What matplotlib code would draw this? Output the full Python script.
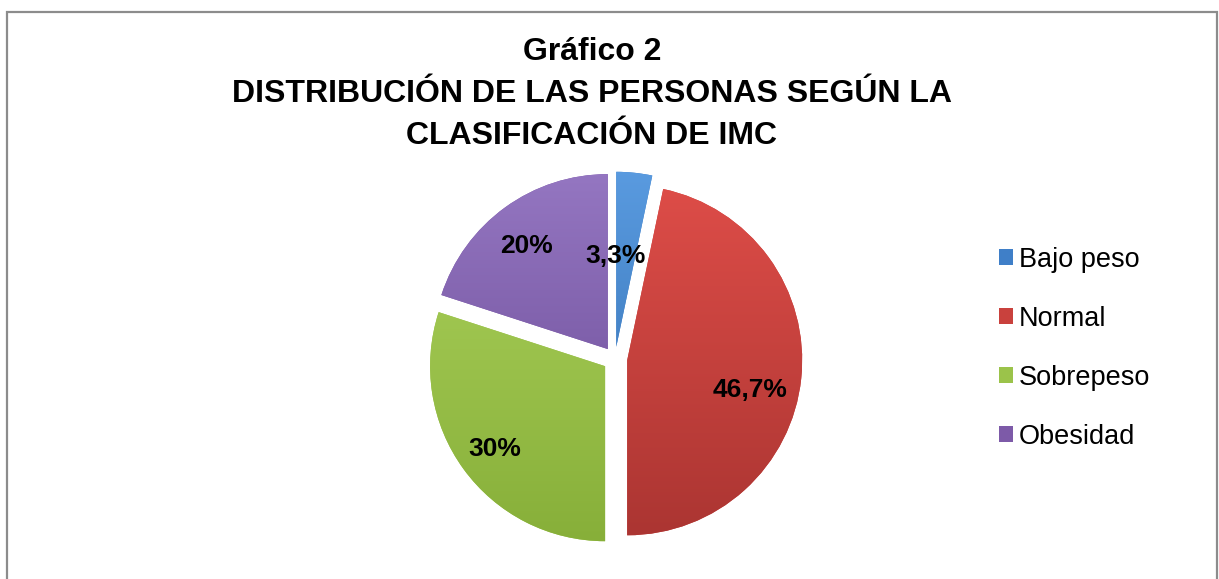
import numpy as np
import matplotlib
matplotlib.use("Agg")
import matplotlib.pyplot as plt
from matplotlib.patches import Rectangle
from matplotlib.colors import LinearSegmentedColormap

plt.rcParams['font.family'] = ['Liberation Sans', 'DejaVu Sans']

categories = ["Bajo peso", "Normal", "Sobrepeso", "Obesidad"]
values = [3.3, 46.7, 30, 20]
value_labels = ["3,3%", "46,7%", "30%", "20%"]
title = "Gráfico 2\nDISTRIBUCIÓN DE LAS PERSONAS SEGÚN LA\nCLASIFICACIÓN DE IMC"

colors = ["#3F7FC8", "#C9413D", "#9BC34A", "#7D5AA8"]
tops = ["#5A9BE0", "#E04E49", "#AED45E", "#9577C2"]
bots = ["#2D68AA", "#A93431", "#86AE38", "#654590"]
label_dist = [0.52, 0.72, 0.79, 0.75]
label_rot = [6.6, -7.8, 0.8, 2.0]

W, H = 1219, 579
fig = plt.figure(figsize=(W / 100, H / 100), dpi=100)
fig.patch.set_facecolor("white")

# pie axes: centre (615, 359) px from top, radius 175 px
cx, cy, r = 615, H - 359, 175
half = 200
ax = fig.add_axes([(cx - half) / W, (cy - half) / H, 2 * half / W, 2 * half / H])
lim = half / r
ax.set_xlim(-lim, lim)
ax.set_ylim(-lim, lim)
ax.set_aspect("equal")
ax.axis("off")

explode = [0.07] * 4
wedges, _ = ax.pie(values, colors=colors, startangle=90, counterclock=False,
                   explode=explode, radius=1.0,
                   wedgeprops=dict(linewidth=0))

# gradient fill inside each wedge
for w, t, b in zip(wedges, tops, bots):
    cmap = LinearSegmentedColormap.from_list("g", [b, t])
    grad = np.linspace(0, 1, 256).reshape(-1, 1)
    im = ax.imshow(grad, cmap=cmap, origin="lower",
                   extent=[-lim, lim, -1.1, 1.1], aspect="auto", zorder=2)
    im.set_clip_path(w)
    w.set_zorder(1)

for w, lab, d, rot in zip(wedges, value_labels, label_dist, label_rot):
    ang = np.deg2rad((w.theta1 + w.theta2) / 2 + rot)
    x0, y0 = w.center
    ax.text(x0 + d * np.cos(ang), y0 + d * np.sin(ang), lab,
            ha="center", va="center", fontsize=19, fontweight="bold",
            color="black", zorder=5)
ax.set_xlim(-lim, lim)
ax.set_ylim(-lim, lim)

fig.text(592 / W, 1 - 94 / H, title, ha="center", va="center",
         fontsize=23, fontweight="bold", linespacing=1.52)

leg = fig.legend(wedges, categories, loc="upper left",
                 bbox_to_anchor=(985 / W, 1 - 233 / H), frameon=False,
                 fontsize=19.5, handlelength=0.52, handleheight=0.52,
                 handletextpad=0.22, labelspacing=1.22, borderpad=0)

fig.add_artist(Rectangle((6.5 / W, -0.1), (1217 - 6.5) / W, (H - 11.5) / H + 0.1,
                         transform=fig.transFigure, fill=False,
                         edgecolor="#8C8C8C", linewidth=1.6))

fig.savefig("out.png", dpi=100, facecolor="white")
